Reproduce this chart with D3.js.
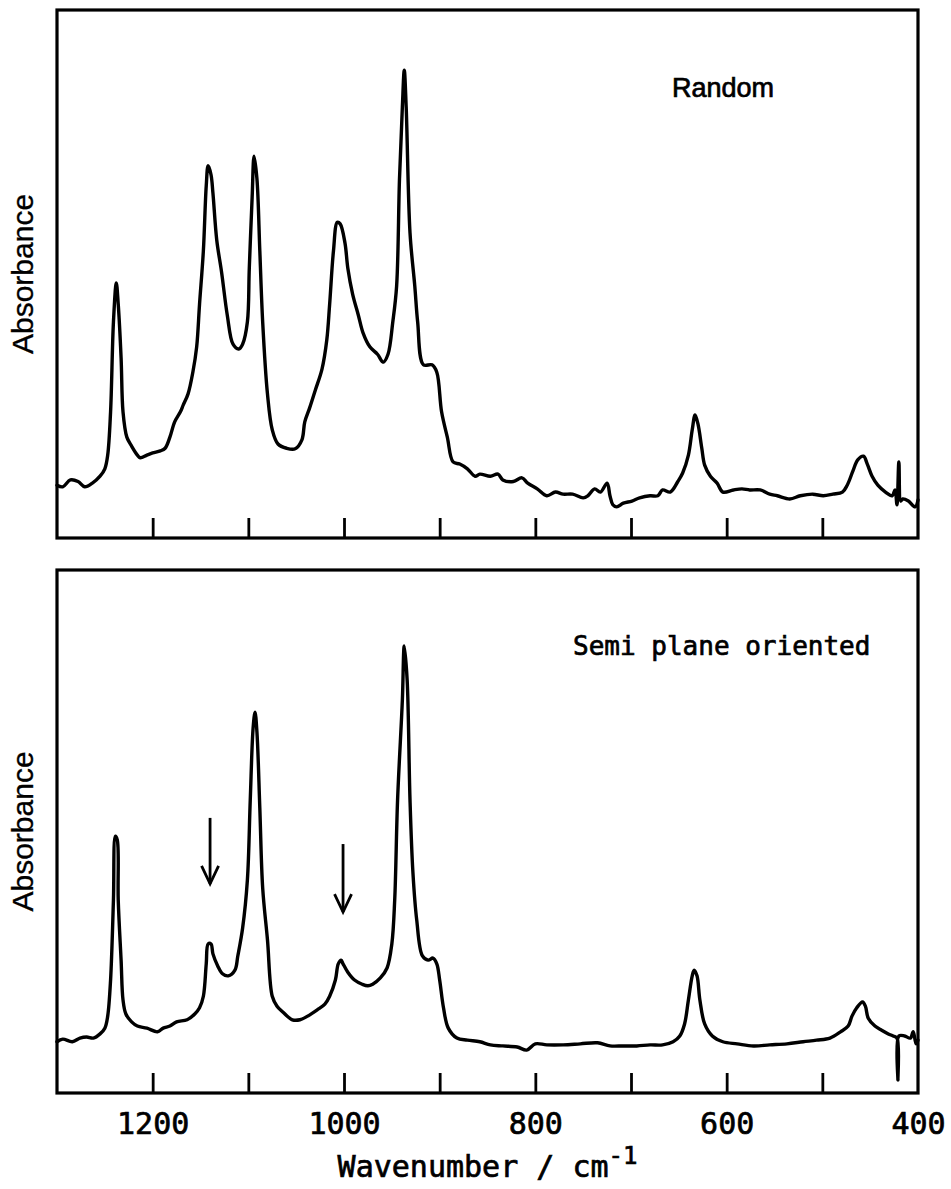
<!DOCTYPE html>
<html>
<head>
<meta charset="utf-8">
<script src="https://cdn.jsdelivr.net/npm/d3@7"></script>
<style>
  body { margin: 0; background: #fff; }
  svg { display: block; }
  text { paint-order: stroke; stroke: #000; stroke-width: 0.7px; }
</style>
</head>
<body>
<svg id="chart" width="951" height="1189"></svg>
<script>
// IR spectra: [wavenumber (cm-1), absorbance (arb. units)]
const randomSpectrum = [
  [1300,.100],[1294,.097],[1286,.110],[1278,.107],[1271,.097],[1263,.104],[1255,.117],[1250,.131],
  [1247,.157],[1244,.239],[1241,.409],[1238,.483],[1236,.443],[1233,.341],[1231,.239],[1227,.191],
  [1222,.174],[1216,.157],[1213,.152],[1206,.157],[1200,.161],[1192,.165],[1187,.170],[1182,.191],
  [1177,.220],[1171,.239],[1168,.252],[1163,.273],[1158,.314],[1154,.362],[1151,.443],[1147,.544],
  [1144,.667],[1142,.705],[1139,.688],[1137,.653],[1133,.564],[1128,.504],[1122,.422],[1116,.367],
  [1110,.358],[1106,.367],[1101,.409],[1099,.511],[1096,.646],[1094,.723],[1091,.680],[1088,.544],
  [1085,.409],[1080,.273],[1075,.205],[1069,.178],[1060,.170],[1051,.169],[1044,.186],[1041,.220],
  [1036,.246],[1030,.280],[1023,.320],[1018,.375],[1015,.443],[1011,.544],[1007,.598],[1004,.595],
  [999,.559],[996,.511],[991,.462],[985,.422],[980,.388],[973,.362],[965,.348],[959,.333],
  [954,.348],[949,.409],[945,.477],[942,.680],[939,.816],[937,.886],[935,.816],[931,.578],
  [926,.477],[923,.409],[917,.328],[908,.328],[903,.314],[898,.239],[892,.191],[886,.144],
  [879,.140],[871,.131],[863,.117],[858,.121],[847,.117],[839,.121],[834,.110],[823,.107],
  [814,.114],[808,.104],[798,.093],[788,.080],[779,.087],[771,.083],[761,.083],[750,.076],
  [745,.080],[738,.093],[732,.087],[725,.104],[722,.080],[719,.063],[715,.059],[708,.066],
  [699,.070],[691,.076],[680,.080],[672,.080],[667,.091],[659,.087],[651,.107],[646,.123],
  [640,.157],[636,.205],[633,.233],[630,.216],[626,.170],[623,.138],[617,.117],[610,.104],
  [604,.087],[593,.091],[584,.093],[576,.091],[565,.091],[555,.083],[547,.080],[534,.074],
  [523,.080],[510,.083],[499,.080],[489,.083],[479,.087],[474,.100],[468,.127],[463,.148],
  [457,.155],[453,.140],[448,.117],[442,.100],[434,.087],[427,.080],[424,.091],[422,.063],
  [420,.144],[418,.070],[416,.074],[410,.070],[403,.059],[400,.072]
];

const semiSpectrum = [
  [1300,.098],[1294,.103],[1284,.098],[1276,.105],[1269,.107],[1262,.105],[1255,.113],[1250,.124],
  [1247,.147],[1244,.216],[1241,.369],[1239,.491],[1237,.484],[1236,.369],[1233,.254],[1231,.178],
  [1228,.151],[1222,.136],[1216,.128],[1206,.124],[1195,.117],[1189,.124],[1182,.128],[1175,.136],
  [1164,.140],[1156,.151],[1151,.163],[1147,.185],[1144,.247],[1142,.285],[1139,.285],[1137,.266],
  [1132,.243],[1127,.228],[1121,.224],[1114,.235],[1111,.262],[1106,.315],[1101,.407],[1098,.560],
  [1095,.698],[1093,.728],[1091,.690],[1088,.545],[1085,.392],[1080,.293],[1075,.185],[1070,.166],
  [1064,.155],[1054,.140],[1046,.140],[1038,.147],[1028,.159],[1020,.170],[1015,.185],[1009,.216],
  [1006,.247],[1003,.254],[1001,.247],[996,.231],[989,.216],[981,.208],[975,.205],[970,.208],
  [962,.220],[955,.239],[950,.285],[947,.369],[944,.560],[939,.751],[937,.855],[934,.790],
  [931,.560],[928,.423],[924,.331],[918,.262],[912,.254],[907,.258],[903,.247],[900,.216],
  [896,.163],[891,.124],[882,.105],[871,.101],[858,.098],[847,.092],[834,.090],[819,.088],
  [809,.082],[800,.094],[788,.092],[771,.092],[753,.094],[735,.096],[722,.090],[708,.090],
  [694,.090],[680,.092],[667,.092],[656,.098],[649,.109],[644,.132],[640,.178],[636,.224],
  [634,.235],[631,.224],[628,.178],[623,.132],[615,.109],[604,.098],[589,.094],[572,.090],
  [555,.092],[537,.094],[520,.098],[506,.101],[492,.105],[481,.117],[473,.128],[469,.147],
  [464,.163],[458,.174],[455,.166],[452,.143],[445,.128],[438,.120],[431,.113],[426,.109],
  [422,.105],[421,.025],[420,.109],[414,.109],[408,.105],[405,.117],[402,.094],[400,.101]
];

const panelTitles = ["Random", "Semi plane oriented"];
const tickValues = [1200, 1100, 1000, 900, 800, 700, 600, 500];
const tickLabelValues = [1200, 1000, 800, 600, 400];
// Arrows marking the weakened bands in the oriented sample (wavenumber, absorbance from -> to)
const arrowMarks = [
  { wn: 1140, from: 0.526, to: 0.400 },
  { wn: 1001, from: 0.476, to: 0.346 }
];

const svg = d3.select("#chart");
const x = d3.scaleLinear().domain([1300, 400]).range([57, 918]);
const monoFont = "'DejaVu Sans Mono', 'Liberation Mono', monospace";
const sansFont = "'Liberation Sans', Arial, sans-serif";

const panels = [
  { data: randomSpectrum, title: panelTitles[0], top: 10, bottom: 538,
    titleX: 672, titleY: 97, titleFont: sansFont, titleSize: 27 },
  { data: semiSpectrum, title: panelTitles[1], top: 570, bottom: 1093,
    titleX: 573, titleY: 655, titleFont: monoFont, titleSize: 26 }
];

panels.forEach((p, i) => {
  const y = d3.scaleLinear().domain([0, 1]).range([p.bottom, p.top]);
  const g = svg.append("g");

  // spectrum trace
  const line = d3.line()
    .curve(d3.curveCatmullRom.alpha(0.5))
    .x(d => x(d[0])).y(d => y(d[1]));
  g.append("path")
    .datum(p.data)
    .attr("d", line)
    .attr("fill", "none")
    .attr("stroke", "#000")
    .attr("stroke-width", 3.4)
    .attr("stroke-linejoin", "round")
    .attr("stroke-linecap", "round");

  // inward ticks on the lower edge
  const tickAxis = d3.axisBottom(x).tickValues(tickValues).tickSize(-20).tickFormat("");
  const ta = g.append("g").attr("transform", `translate(0,${p.bottom})`).call(tickAxis);
  ta.select(".domain").remove();
  ta.selectAll(".tick line").attr("stroke", "#000").attr("stroke-width", 2.8);

  // frame
  g.append("rect")
    .attr("x", x(1300)).attr("y", p.top)
    .attr("width", x(400) - x(1300)).attr("height", p.bottom - p.top)
    .attr("fill", "none").attr("stroke", "#000").attr("stroke-width", 3.2);

  // y label
  g.append("text")
    .attr("transform", `translate(33,${(p.top + p.bottom) / 2}) rotate(-90)`)
    .attr("text-anchor", "middle")
    .attr("font-family", sansFont)
    .attr("font-size", 30)
    .attr("fill", "#000")
    .style("stroke-width", "0.3px")
    .text("Absorbance");

  // panel title
  g.append("text")
    .attr("x", p.titleX).attr("y", p.titleY)
    .attr("font-family", p.titleFont)
    .attr("font-size", p.titleSize)
    .attr("fill", "#000")
    .text(p.title);

  if (i === 1) {
    // tick labels
    const labelAxis = d3.axisBottom(x).tickValues(tickLabelValues).tickSize(0).tickPadding(20)
      .tickFormat(d3.format("d"));
    const la = g.append("g").attr("transform", `translate(0,${p.bottom})`).call(labelAxis);
    la.select(".domain").remove();
    la.selectAll("text")
      .attr("font-family", monoFont)
      .attr("font-size", 30)
      .attr("fill", "#000");

    // arrows
    arrowMarks.forEach(a => {
      const ax = x(a.wn), y0 = y(a.from), y1 = y(a.to);
      g.append("line")
        .attr("x1", ax).attr("x2", ax).attr("y1", y0).attr("y2", y1)
        .attr("stroke", "#000").attr("stroke-width", 2.8);
      g.append("path")
        .attr("d", `M${ax - 8.5},${y1 - 18}L${ax},${y1}L${ax + 8.5},${y1 - 18}`)
        .attr("fill", "none").attr("stroke", "#000").attr("stroke-width", 2.8)
        .attr("stroke-linejoin", "miter");
    });

    // x axis title with superscript
    const t = svg.append("text")
      .attr("x", (x(1300) + x(400)) / 2)
      .attr("y", 1177)
      .attr("text-anchor", "middle")
      .attr("font-family", monoFont)
      .attr("font-size", 30)
      .attr("fill", "#000");
    t.append("tspan").text("Wavenumber / cm");
    t.append("tspan").attr("dy", -13).attr("font-size", 24).text("-1");
  }
});
</script>
</body>
</html>
